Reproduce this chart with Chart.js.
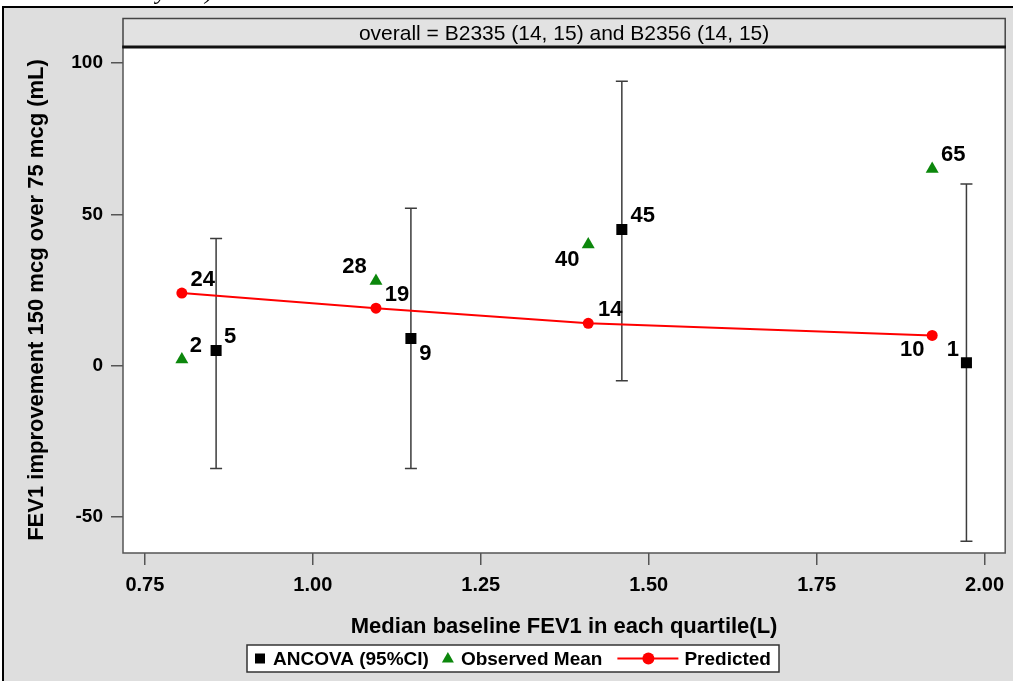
<!DOCTYPE html>
<html>
<head>
<meta charset="utf-8">
<title>FEV1 improvement by baseline quartile</title>
<script src="https://cdn.jsdelivr.net/npm/chart.js@4.4.1/dist/chart.umd.min.js"></script>
<style>
  html, body { margin: 0; padding: 0; background: #fff; }
  canvas { display: block; }
</style>
</head>
<body>
<canvas id="myChart" width="1013" height="681"></canvas>
<script>
// median baseline FEV1 per quartile; ANCOVA estimates are nudged right so the CI bars don't overlap
let xMedian = [0.805, 1.094, 1.41, 1.922]
let xAncova = [0.856, 1.146, 1.46, 1.973]

let ancova = [5, 9, 45, 1]
let ancovaLow = [-34, -34, -5, -58]
let ancovaHigh = [42, 52, 94, 60]
let observed = [2, 28, 40, 65]
let predicted = [24, 19, 14, 10]

let xTicks = [0.75, 1.00, 1.25, 1.50, 1.75, 2.00]
let yTicks = [-50, 0, 50, 100]

let header = 'overall = B2335 (14, 15) and B2356 (14, 15)'

// where each value label sits relative to its marker (px)
let labelOffsets = [
    [[14, -13.5], [14.5, 16], [21, -14], [-13.5, -13]],
    [[14, -14], [-21.5, -14], [-21, 15], [21, -14.5]],
    [[21, -13.5], [21, -13.5], [22, -13.5], [-20, 15]]
]

const FONT = '"Liberation Sans", Arial, sans-serif'
const GRAY = '#dedede'
const GREEN = '#0c870c'

const fundo = {
    id: 'fundo',
    beforeDraw(chart) {
        const {ctx, chartArea: a, width, height} = chart
        ctx.save()
        ctx.fillStyle = '#fff'
        ctx.fillRect(0, 0, width, height)
        // bit of the caption above, cut off by the frame
        ctx.fillStyle = '#000'
        ctx.font = 'italic 24px "Liberation Serif", serif'
        ctx.textBaseline = 'alphabetic'
        ctx.fillText('y', 156, -1)
        ctx.fillText(')', 205, -1)

        ctx.fillStyle = GRAY
        ctx.fillRect(3, 7, width - 3, height - 7)
        ctx.strokeStyle = '#000'
        ctx.lineWidth = 2
        ctx.beginPath()
        ctx.moveTo(3, height)
        ctx.lineTo(3, 7)
        ctx.lineTo(width, 7)
        ctx.stroke()

        // panel header
        ctx.fillStyle = '#e2e2e2'
        ctx.fillRect(a.left, 18, a.right - a.left, a.top - 18)
        ctx.strokeStyle = '#444'
        ctx.lineWidth = 1.5
        ctx.strokeRect(a.left, 18.5, a.right - a.left, a.top - 18.5)
        ctx.fillStyle = '#000'
        ctx.font = '21px ' + FONT
        ctx.textAlign = 'center'
        ctx.textBaseline = 'middle'
        ctx.fillText(header, (a.left + a.right) / 2, 34)

        ctx.fillStyle = '#fff'
        ctx.fillRect(a.left, a.top, a.right - a.left, a.bottom - a.top)
        ctx.restore()
    }
}

const barras = {
    id: 'barras',
    beforeDatasetsDraw(chart) {
        const {ctx, scales: {x, y}} = chart
        ctx.save()
        ctx.strokeStyle = '#3c3c3c'
        ctx.lineWidth = 1.5
        xAncova.forEach((v, i) => {
            const px = x.getPixelForValue(v)
            const lo = y.getPixelForValue(ancovaLow[i])
            const hi = y.getPixelForValue(ancovaHigh[i])
            ctx.beginPath()
            ctx.moveTo(px, lo); ctx.lineTo(px, hi)
            ctx.moveTo(px - 6, lo); ctx.lineTo(px + 6, lo)
            ctx.moveTo(px - 6, hi); ctx.lineTo(px + 6, hi)
            ctx.stroke()
        })
        ctx.restore()
    }
}

const rotulos = {
    id: 'rotulos',
    afterDatasetsDraw(chart) {
        const ctx = chart.ctx
        ctx.save()
        ctx.fillStyle = '#000'
        ctx.font = 'bold 22px ' + FONT
        ctx.textAlign = 'center'
        ctx.textBaseline = 'middle'
        chart.data.datasets.forEach((ds, d) => {
            chart.getDatasetMeta(d).data.forEach((pt, i) => {
                const off = labelOffsets[d][i]
                ctx.fillText(String(ds.data[i].y), pt.x + off[0], pt.y + off[1])
            })
        })
        ctx.restore()
    }
}

const moldura = {
    id: 'moldura',
    afterDraw(chart) {
        const {ctx, chartArea: a} = chart
        ctx.save()
        ctx.strokeStyle = '#555'
        ctx.lineWidth = 1.5
        ctx.strokeRect(a.left, a.top, a.right - a.left, a.bottom - a.top)
        ctx.strokeStyle = '#111'
        ctx.lineWidth = 3
        ctx.beginPath()
        ctx.moveTo(a.left - 0.75, a.top)
        ctx.lineTo(a.right + 0.75, a.top)
        ctx.stroke()

        // legend box
        const top = 645, bot = 672, mid = (top + bot) / 2
        let x = 247
        ctx.fillStyle = '#fff'
        ctx.fillRect(x, top, 532, bot - top)
        ctx.strokeStyle = '#333'
        ctx.lineWidth = 1.5
        ctx.strokeRect(x, top, 532, bot - top)
        ctx.font = 'bold 19px ' + FONT
        ctx.textAlign = 'left'
        ctx.textBaseline = 'middle'

        x += 13
        ctx.fillStyle = '#000'
        ctx.fillRect(x - 5, mid - 5, 10, 10)
        x += 13
        ctx.fillText('ANCOVA (95%CI)', x, mid + 1)
        x += ctx.measureText('ANCOVA (95%CI)').width + 19
        ctx.fillStyle = GREEN
        ctx.beginPath()
        ctx.moveTo(x, mid - 6.5)
        ctx.lineTo(x + 6, mid + 4)
        ctx.lineTo(x - 6, mid + 4)
        ctx.closePath()
        ctx.fill()
        x += 13
        ctx.fillStyle = '#000'
        ctx.fillText('Observed Mean', x, mid + 1)
        x += ctx.measureText('Observed Mean').width + 15
        ctx.strokeStyle = '#f00'
        ctx.lineWidth = 2
        ctx.beginPath()
        ctx.moveTo(x, mid); ctx.lineTo(x + 61, mid)
        ctx.stroke()
        ctx.fillStyle = '#f00'
        ctx.beginPath()
        ctx.arc(x + 31, mid, 6, 0, Math.PI * 2)
        ctx.fill()
        x += 67
        ctx.fillStyle = '#000'
        ctx.fillText('Predicted', x, mid + 1)
        ctx.restore()
    }
}

const gridOpts = {
    drawOnChartArea: false,
    drawTicks: true,
    tickLength: 12,
    color: '#555',
    lineWidth: 1.5
}

var ctx = document.getElementById('myChart').getContext('2d')
var chart = new Chart(ctx, {
    type: 'scatter',
    data: {
        datasets: [{
            label: 'ANCOVA (95%CI)',
            data: xAncova.map((v, i) => ({x: v, y: ancova[i]})),
            pointStyle: 'rect',
            pointRadius: 7.8,
            pointBorderWidth: 0,
            backgroundColor: '#000',
            borderColor: '#000'
        }, {
            label: 'Observed Mean',
            data: xMedian.map((v, i) => ({x: v, y: observed[i]})),
            pointStyle: 'triangle',
            pointRadius: 7.5,
            pointBorderWidth: 0,
            backgroundColor: GREEN,
            borderColor: GREEN
        }, {
            label: 'Predicted',
            data: xMedian.map((v, i) => ({x: v, y: predicted[i]})),
            showLine: true,
            tension: 0,
            borderColor: '#f00',
            borderWidth: 2,
            pointStyle: 'circle',
            pointRadius: 5.5,
            pointBorderWidth: 0,
            pointBackgroundColor: '#f00',
            backgroundColor: '#f00'
        }]
    },
    options: {
        responsive: false,
        animation: false,
        devicePixelRatio: 1,
        events: [],
        layout: { padding: { top: 47, right: 3, left: 0, bottom: 0 } },
        plugins: { legend: { display: false }, tooltip: { enabled: false } },
        scales: {
            x: {
                type: 'linear',
                min: 0.7174,
                max: 2.0307,
                afterBuildTicks: s => { s.ticks = xTicks.map(v => ({value: v})) },
                afterFit: s => { s.height = 128 },
                grid: gridOpts,
                border: { display: false },
                ticks: {
                    padding: 8,
                    color: '#000',
                    maxRotation: 0,
                    autoSkip: false,
                    font: { family: FONT, size: 20, weight: 'bold' },
                    callback: v => v.toFixed(2)
                },
                title: {
                    display: true,
                    text: 'Median baseline FEV1 in each quartile(L)',
                    color: '#000',
                    font: { family: FONT, size: 22, weight: 'bold' },
                    padding: { top: 0, bottom: 41 }
                }
            },
            y: {
                type: 'linear',
                min: -61.9,
                max: 105.3,
                afterBuildTicks: s => { s.ticks = yTicks.map(v => ({value: v})) },
                afterFit: s => { s.width = 123 },
                grid: gridOpts,
                border: { display: false },
                ticks: {
                    padding: 8,
                    color: '#000',
                    font: { family: FONT, size: 19, weight: 'bold' }
                },
                title: {
                    display: true,
                    text: 'FEV1 improvement 150 mcg over 75 mcg (mL)',
                    color: '#000',
                    font: { family: FONT, size: 22, weight: 'bold' },
                    padding: { top: 24, bottom: 0 }
                }
            }
        }
    },
    plugins: [fundo, barras, rotulos, moldura]
})
</script>
</body>
</html>
